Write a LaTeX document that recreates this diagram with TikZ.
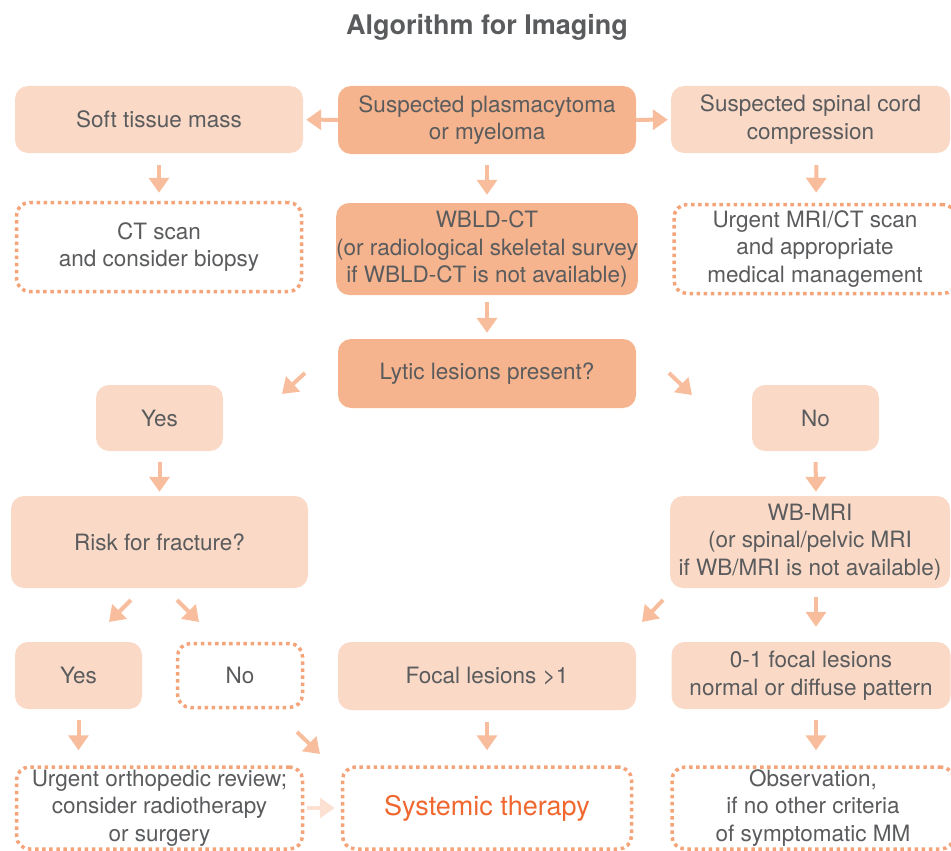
\documentclass[tikz,border=0pt]{standalone}
\usepackage{fontspec}
\setmainfont{TeX Gyre Heros}
\usetikzlibrary{arrows.meta,calc}
\definecolor{darkf}{HTML}{F6B48E}
\definecolor{lightf}{HTML}{FADAC7}
\definecolor{arrc}{HTML}{F8BD9C}
\definecolor{dotc}{HTML}{F5A47A}
\definecolor{txt}{HTML}{5A5B5D}
\definecolor{systxt}{HTML}{F0672F}
\definecolor{lightarr}{HTML}{FCE1D3}
\tikzset{
  base/.style={rounded corners=13pt, align=center, inner sep=0pt, text=txt, font=\fontsize{22.5}{27.5}\selectfont},
  darkbox/.style={base, fill=darkf},
  lightbox/.style={base, fill=lightf},
  dotbox/.style={base, draw=dotc, line width=3.5pt, dash pattern=on 3.5pt off 3.6pt},
  arr/.style={draw=arrc, line width=4pt, -{Triangle[width=20pt,length=15pt]}},
}
\begin{document}
\begin{tikzpicture}[x=1pt,y=-1pt]
\useasboundingbox (0,0) rectangle (951,851);
\node[font=\bfseries\fontsize{27}{30}\selectfont, text=txt] (title) at (487,27) {Algorithm for Imaging};
% row 1
\node[lightbox, minimum width=288, minimum height=67] (soft) at (159,119.5) {Soft tissue mass};
\node[darkbox, minimum width=298, minimum height=68] (plasma) at (487,120) {Suspected plasmacytoma\\or myeloma};
\node[lightbox, minimum width=279, minimum height=67] (spinal) at (810.5,119.5) {Suspected spinal cord\\compression};
% row 2
\node[dotbox, minimum width=285, minimum height=89] (ct) at (159,247) {CT scan\\and consider biopsy};
\node[darkbox, minimum width=298, minimum height=92] (wbld) at (487,249) {WBLD-CT\\(or radiological skeletal survey\\if WBLD-CT is not available)};
\node[dotbox, minimum width=282, minimum height=89] (mri) at (815,249) {Urgent MRI/CT scan\\and appropriate\\medical management};
% row 3
\node[darkbox, minimum width=298, minimum height=69] (lytic) at (487,373.5) {Lytic lesions present?};
\node[lightbox, minimum width=127, minimum height=66] (yes1) at (159.5,418) {Yes};
\node[lightbox, minimum width=127, minimum height=66] (no1) at (815.5,418) {No};
% row 4
\node[lightbox, minimum width=297, minimum height=92] (risk) at (159.5,542) {Risk for fracture?};
\node[lightbox, minimum width=280, minimum height=92] (wbmri) at (810,542) {WB-MRI\\(or spinal/pelvic MRI\\if WB/MRI is not available)};
% row 5
\node[lightbox, minimum width=127, minimum height=67] (yes2) at (78.5,675.5) {Yes};
\node[dotbox, minimum width=125, minimum height=64] (no2) at (240,675.5) {No};
\node[lightbox, minimum width=298, minimum height=68] (focal) at (487,676) {Focal lesions >1};
\node[lightbox, minimum width=279, minimum height=67] (zero) at (811,675.5) {0-1 focal lesions\\normal or diffuse pattern};
% row 6
\node[dotbox, minimum width=286, minimum height=82] (ortho) at (159.5,808) {Urgent orthopedic review;\\consider radiotherapy\\or surgery};
\node[dotbox, minimum width=289, minimum height=82, text=systxt, font=\fontsize{27}{30}\selectfont] (sys) at (487,808) {Systemic therapy};
\node[dotbox, minimum width=282, minimum height=82] (obs) at (813,808) {Observation,\\if no other criteria\\of symptomatic MM};
% straight arrows
\draw[arr, shorten >=3pt] (plasma) -- (soft);
\draw[arr, shorten >=3pt] (plasma) -- (spinal);
\draw[arr, shorten <=12pt, shorten >=8pt] (soft.south) -- (ct.north);
\draw[arr, shorten <=11pt, shorten >=8pt] (plasma.south) -- (wbld.north);
\draw[arr, shorten <=12pt, shorten >=10pt] ([xshift=6pt]spinal.south) -- ([xshift=1pt]mri.north);
\draw[arr, shorten <=7pt, shorten >=6pt] (wbld.south) -- (lytic.north);
\draw[arr, shorten <=11pt, shorten >=4pt] (yes1.south) -- (risk.north);
\draw[arr, shorten <=11pt, shorten >=4pt] (no1.south) -- ([xshift=6pt]wbmri.north);
\draw[arr, shorten <=9pt, shorten >=15pt] ([xshift=6pt]wbmri.south) -- ([xshift=5pt]zero.north);
\draw[arr, shorten <=11pt, shorten >=15pt] (yes2.south) -- (yes2.south |- ortho.north);
\draw[arr, shorten <=12pt, shorten >=15pt] (focal.south) -- (sys.north);
\draw[arr, shorten <=11pt, shorten >=15pt] ([xshift=5pt]zero.south) -- ([xshift=3pt]obs.north);
\draw[arr, draw=lightarr, shorten <=3pt, shorten >=6pt] (ortho) -- (sys);
% diagonal arrows
\coordinate (d1a) at (305,373); \coordinate (d1b) at (282,394);
\coordinate (d2a) at (669,373); \coordinate (d2b) at (692,395);
\coordinate (d3a) at (131,600); \coordinate (d3b) at (109,622);
\coordinate (d4a) at (177,600); \coordinate (d4b) at (199,622);
\coordinate (d5a) at (663,600); \coordinate (d5b) at (642,622);
\coordinate (d6a) at (297,732); \coordinate (d6b) at (320,754);
\foreach \i in {1,...,6} {\draw[arr] (d\i a) -- (d\i b);}
\end{tikzpicture}
\end{document}
